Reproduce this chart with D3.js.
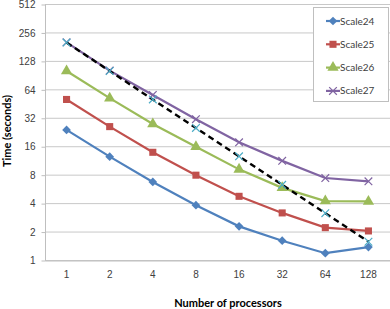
<!DOCTYPE html>
<html>
<head>
<meta charset="utf-8">
<script src="https://cdn.jsdelivr.net/npm/d3@7"></script>
<style>
  html, body { margin: 0; padding: 0; background: #fff; }
  svg { display: block; font-family: Lato, "Open Sans", sans-serif; }
</style>
</head>
<body>
<div id="chart"></div>
<script>
//Datos
const processors = ['1', '2', '4', '8', '16', '32', '64', '128'];
const yTicks = [1, 2, 4, 8, 16, 32, 64, 128, 256, 512];
const scale24 = [23.8, 12.4, 6.7, 3.8, 2.27, 1.6, 1.18, 1.37];
const scale25 = [50, 25.8, 13.8, 7.9, 4.72, 3.15, 2.2, 2.03];
const scale26 = [100, 51.6, 27.5, 15.8, 9.1, 5.8, 4.2, 4.17];
const scale27 = [201, 101, 55.8, 30.9, 17.6, 11.2, 7.37, 6.8];
const ideal = [200, 100, 50, 25, 12.5, 6.25, 3.13, 1.56];

const seriesNames = ['Scale24', 'Scale25', 'Scale26', 'Scale27'];
const seriesValues = [scale24, scale25, scale26, scale27];
const seriesColors = ['#4F81BD', '#C0504D', '#9BBB59', '#8064A2'];
//diamante = cuadrado girado 45º
const seriesSymbols = [d3.symbolSquare, d3.symbolSquare, d3.symbolTriangle, d3.symbolX];
const seriesRotate = [45, 0, 0, 0];
const seriesSizes = [38, 50, 55, 40];

const width = 390, height = 309;
const plot = {left: 45, right: 390, top: 4, bottom: 260};

let svg = d3.select('#chart').append('svg')
    .attr('width', width)
    .attr('height', height);

let x = d3.scaleBand()
    .domain(processors)
    .range([plot.left, plot.right]);

let y = d3.scaleLog()
    .base(2)
    .domain([1, 512])
    .range([plot.bottom, plot.top]);

//Rejilla
svg.append('g')
    .selectAll('line')
    .data(yTicks)
    .enter()
    .append('line')
    .attr('x1', plot.left)
    .attr('x2', plot.right)
    .attr('y1', d => y(d) + 0.5)
    .attr('y2', d => y(d) + 0.5)
    .attr('stroke', '#c8c8c8')
    .attr('stroke-width', 1);

//Eje Y
let yAxis = svg.append('g')
    .attr('transform', 'translate(' + (plot.left + 0.5) + ',0.5)')
    .call(d3.axisLeft(y).tickValues(yTicks).tickFormat(d3.format('d')).tickSize(4).tickPadding(6));
yAxis.select('.domain').attr('stroke', '#bfbfbf').attr('d', 'M0,' + plot.top + 'V' + plot.bottom);
yAxis.selectAll('.tick line').attr('stroke', '#bfbfbf');
yAxis.selectAll('text').attr('fill', '#404040').style('font-size', '10px');

//Eje X
let xAxis = svg.append('g')
    .attr('transform', 'translate(0,' + (plot.bottom + 0.5) + ')')
    .call(d3.axisBottom(x).tickSize(0).tickPadding(10));
xAxis.select('.domain').attr('stroke', '#bfbfbf');
xAxis.selectAll('text').attr('fill', '#404040').style('font-size', '10px');

//Títulos
svg.append('text')
    .attr('x', 228)
    .attr('y', 307)
    .attr('text-anchor', 'middle')
    .style('font-size', '11px')
    .style('font-weight', 'bold')
    .text('Number of processors');

svg.append('text')
    .attr('transform', 'translate(11,131) rotate(-90)')
    .attr('text-anchor', 'middle')
    .style('font-size', '11px')
    .style('font-weight', 'bold')
    .text('Time (seconds)');

let line = d3.line()
    .x((d, i) => x(processors[i]) + x.bandwidth() / 2)
    .y(d => y(d));

function drawMarker(sel, s) {
    let isX = seriesSymbols[s] === d3.symbolX;
    sel.attr('d', d3.symbol().type(seriesSymbols[s]).size(seriesSizes[s]))
        .attr('fill', isX ? 'none' : seriesColors[s])
        .attr('stroke', seriesColors[s])
        .attr('stroke-width', isX ? 1.2 : 0);
}

//Series
seriesValues.forEach(function(values, s) {
    let g = svg.append('g');
    g.append('path')
        .datum(values)
        .attr('d', line)
        .attr('fill', 'none')
        .attr('stroke', seriesColors[s])
        .attr('stroke-width', 2.2);
    g.selectAll('path.m')
        .data(values)
        .enter()
        .append('path')
        .attr('class', 'm')
        .attr('transform', (d, i) => 'translate(' + (x(processors[i]) + x.bandwidth() / 2) + ',' + y(d) + ') rotate(' + seriesRotate[s] + ')')
        .call(drawMarker, s);
});

//Línea ideal
svg.append('path')
    .datum(ideal)
    .attr('d', line)
    .attr('fill', 'none')
    .attr('stroke', '#000')
    .attr('stroke-width', 2.4)
    .attr('stroke-dasharray', '6,4');

svg.append('g')
    .selectAll('path')
    .data(ideal)
    .enter()
    .append('path')
    .attr('transform', (d, i) => 'translate(' + (x(processors[i]) + x.bandwidth() / 2) + ',' + y(d) + ')')
    .attr('d', d3.symbol().type(d3.symbolX).size(40))
    .attr('fill', 'none')
    .attr('stroke', '#4BACC6')
    .attr('stroke-width', 1.2);

//Leyenda
let legend = svg.append('g');
legend.append('rect')
    .attr('x', 313.5)
    .attr('y', 7.5)
    .attr('width', 75)
    .attr('height', 94)
    .attr('fill', '#fff')
    .attr('stroke', '#bfbfbf');

seriesNames.forEach(function(name, s) {
    let ly = 21 + s * 23.3;
    legend.append('line')
        .attr('x1', 326).attr('x2', 340)
        .attr('y1', ly).attr('y2', ly)
        .attr('stroke', seriesColors[s])
        .attr('stroke-width', 2.2);
    legend.append('path')
        .attr('transform', 'translate(333,' + ly + ') rotate(' + seriesRotate[s] + ')')
        .call(drawMarker, s);
    legend.append('text')
        .attr('x', 340)
        .attr('y', ly + 3.5)
        .attr('fill', '#404040')
        .style('font-size', '10px')
        .text(name);
});
</script>
</body>
</html>
